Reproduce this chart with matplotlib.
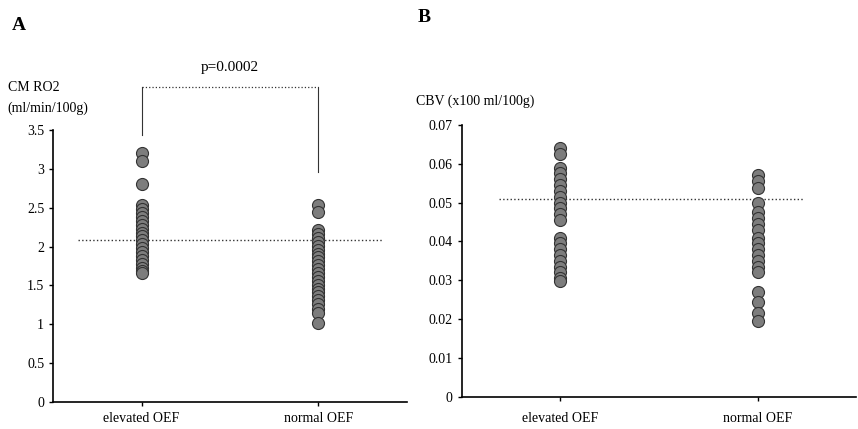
import matplotlib.pyplot as plt

plt.rcParams['font.family'] = ['Liberation Serif', 'DejaVu Serif']

groups = ["elevated OEF", "normal OEF"]

# CMRO2 (ml/min/100g)
cmro2_elevated = [3.2, 3.1, 2.8, 2.53, 2.48, 2.43, 2.38, 2.33, 2.28, 2.23, 2.18,
                  2.13, 2.08, 2.03, 1.98, 1.93, 1.88, 1.83, 1.78, 1.73, 1.68, 1.66]
cmro2_normal = [2.53, 2.45, 2.21, 2.16, 2.11, 2.06, 2.01, 1.96, 1.91, 1.86, 1.81,
                1.76, 1.71, 1.66, 1.61, 1.56, 1.51, 1.46, 1.41, 1.36, 1.31, 1.26,
                1.2, 1.15, 1.02]
cmro2_mean = 2.08
p_text = "p=0.0002"

# CBV (x100 ml/100g)
cbv_elevated = [0.064, 0.0625, 0.059, 0.0575, 0.056, 0.0545, 0.053, 0.0515,
                0.050, 0.0485, 0.047, 0.0455, 0.041, 0.0395, 0.038, 0.0365,
                0.035, 0.0335, 0.032, 0.0305, 0.0298]
cbv_normal = [0.057, 0.0555, 0.0537, 0.050, 0.0475, 0.046, 0.0445, 0.043, 0.041,
              0.0395, 0.038, 0.0365, 0.035, 0.0335, 0.032, 0.027, 0.0245,
              0.0215, 0.0195]
cbv_mean = 0.051

fig = plt.figure(figsize=(8.58, 4.29), dpi=100)
axA = fig.add_axes([0.062, 0.063, 0.412, 0.634])
axB = fig.add_axes([0.538, 0.075, 0.46, 0.634])

mk = dict(marker='o', s=75, color='#7d7d7d', edgecolors='#333333',
          linewidths=0.8, zorder=3)


def style_axis(ax, xpad):
    for side in ('top', 'right'):
        ax.spines[side].set_visible(False)
    ax.spines['left'].set_linewidth(1.2)
    ax.spines['bottom'].set_linewidth(1.2)
    ax.tick_params(axis='both', direction='out', length=3, width=1,
                   labelsize=10)
    ax.tick_params(axis='x', pad=xpad)
    ax.set_xlim(-0.5, 1.5)
    ax.set_xticks([0, 1])
    ax.set_xticklabels(groups)


# panel A
axA.scatter([0] * len(cmro2_elevated), cmro2_elevated, **mk)
axA.scatter([1] * len(cmro2_normal), cmro2_normal, **mk)
axA.plot([-0.36, 1.36], [cmro2_mean, cmro2_mean], linestyle=':',
         color='#333333', linewidth=1)
axA.set_ylim(0, 3.5)
axA.set_yticks([0, 0.5, 1, 1.5, 2, 2.5, 3, 3.5])
axA.set_yticklabels(["0", "0.5", "1", "1.5", "2", "2.5", "3", "3.5"])
style_axis(axA, 4)
# significance bracket
axA.plot([0, 0], [3.44, 4.05], color='#333333', lw=0.8, clip_on=False)
axA.plot([1, 1], [2.96, 4.05], color='#333333', lw=0.8, clip_on=False)
axA.plot([0, 1], [4.05, 4.05], color='#333333', lw=0.9, ls=':',
         clip_on=False)
axA.text(0.5, 4.3, p_text, ha='center', va='center', fontsize=11)

# panel B
axB.scatter([0] * len(cbv_elevated), cbv_elevated, **mk)
axB.scatter([1] * len(cbv_normal), cbv_normal, **mk)
axB.plot([-0.31, 1.23], [cbv_mean, cbv_mean], linestyle=':',
         color='#333333', linewidth=1)
axB.set_ylim(0, 0.07)
axB.set_yticks([0, 0.01, 0.02, 0.03, 0.04, 0.05, 0.06, 0.07])
axB.set_yticklabels(["0", "0.01", "0.02", "0.03", "0.04", "0.05", "0.06",
                     "0.07"])
style_axis(axB, 8)

fig.text(0.009, 0.795, "CM RO2", fontsize=10, va='center')
fig.text(0.009, 0.748, "(ml/min/100g)", fontsize=10, va='center')
fig.text(0.485, 0.765, "CBV (x100 ml/100g)", fontsize=10, va='center')
fig.text(0.014, 0.94, "A", fontsize=14, fontweight='bold', va='center')
fig.text(0.487, 0.96, "B", fontsize=14, fontweight='bold', va='center')

fig.savefig("out.png", dpi=100, facecolor='white')
